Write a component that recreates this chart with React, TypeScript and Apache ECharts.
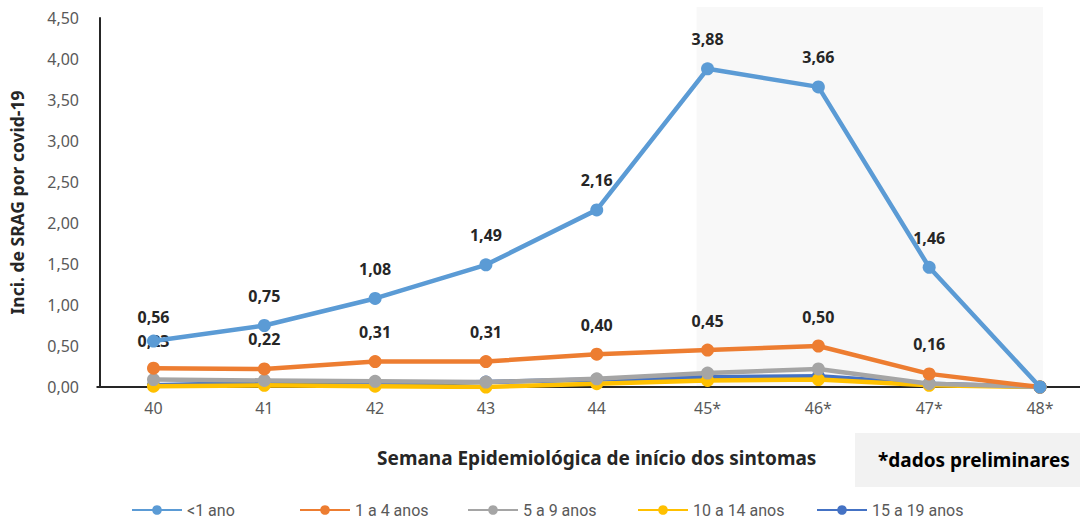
import React, { useEffect, useRef } from "react";
import * as echarts from "echarts";

const weeks = ["40", "41", "42", "43", "44", "45*", "46*", "47*", "48*"];
const seriesNames = ["<1 ano", "1 a 4 anos", "5 a 9 anos", "10 a 14 anos", "15 a 19 anos"];
const lt1 = [0.56, 0.75, 1.08, 1.49, 2.16, 3.88, 3.66, 1.46, 0.0];
const a1to4 = [0.23, 0.22, 0.31, 0.31, 0.4, 0.45, 0.5, 0.16, 0.0];
const a5to9 = [0.09, 0.08, 0.07, 0.06, 0.1, 0.17, 0.22, 0.04, 0.0];
const a10to14 = [0.01, 0.02, 0.01, 0.0, 0.04, 0.08, 0.09, 0.02, 0.0];
const a15to19 = [0.02, 0.05, 0.03, 0.06, 0.09, 0.12, 0.13, 0.04, 0.0];
const colors = ["#5B9BD5", "#ED7D31", "#A5A5A5", "#FFC000", "#4472C4"];
const labeled = [true, true, false, false, false];
const legendLefts = [131, 299, 467, 637, 816];
const yTicks = { min: 0, max: 4.5, interval: 0.5 };

const fmt = (v: number) => v.toFixed(2).replace(".", ",");

export default function App() {
  const ref = useRef<HTMLDivElement>(null);
  useEffect(() => {
    if (!ref.current) return;
    const chart = echarts.init(ref.current, undefined, { renderer: "svg" });
    const allData = [lt1, a1to4, a5to9, a10to14, a15to19];
    const series = allData.map((d, i) => ({
      name: seriesNames[i],
      type: "line",
      data: d.map((v, j) => {
        if (!labeled[i]) return v;
        const item: any = { value: v };
        if (v === 0) item.label = { show: false };
        if (i === 0 && j === 0) item.label = { offset: [0, 5] };
        if (i === 1 && j === 0) item.label = { offset: [0, 2] };
        return item;
      }),
      z: 10 - i,
      color: colors[i],
      lineStyle: { width: 4.5, color: colors[i] },
      symbol: "circle",
      symbolSize: 13,
      itemStyle: { color: colors[i] },
      label: {
        show: labeled[i],
        position: "top",
        distance: 15,
        fontFamily: "Noto Sans",
        fontWeight: "bold",
        fontSize: 16,
        color: "#262626",
        formatter: (p: any) => fmt(p.value),
      },
    }));
    chart.setOption({
      animation: false,
      backgroundColor: "#ffffff",
      grid: { left: 150.5, top: 18, right: 40, height: 369, containLabel: false },
      xAxis: {
        type: "category",
        data: weeks,
        boundaryGap: false,
        axisLine: { lineStyle: { color: "#262626", width: 2 } },
        axisTick: { show: false },
        axisLabel: { color: "#595959", fontSize: 16, fontFamily: "Noto Sans", margin: 13 },
        name: "Semana Epidemiológica de início dos sintomas",
        nameLocation: "middle",
        nameGap: 61,
        nameTextStyle: { fontFamily: "Noto Sans", fontWeight: "bold", fontSize: 19, color: "#262626" },
      },
      yAxis: {
        type: "value",
        min: yTicks.min,
        max: yTicks.max,
        interval: yTicks.interval,
        offset: 53.5,
        splitLine: { show: false },
        axisLine: { show: true, lineStyle: { color: "#262626", width: 2 } },
        axisTick: { show: false },
        axisLabel: { color: "#595959", fontSize: 16, fontFamily: "Noto Sans", margin: 21, formatter: (v: number) => fmt(v) },
        name: "Inci. de SRAG por covid-19",
        nameLocation: "middle",
        nameGap: 74,
        nameRotate: 90,
        nameTextStyle: { fontFamily: "Noto Sans", fontWeight: "bold", fontSize: 17.5, color: "#262626" },
      },
      legend: seriesNames.map((n, i) => ({
        data: [n],
        left: legendLefts[i],
        top: 502,
        padding: 0,
        itemWidth: 50,
        itemHeight: 12,
        textStyle: { color: "#595959", fontSize: 16, fontFamily: "Roboto" },
      })),
      series,
    });
    const x45 = chart.convertToPixel({ xAxisIndex: 0 }, "45*") as number;
    const x48 = chart.convertToPixel({ xAxisIndex: 0 }, "48*") as number;
    const y0 = chart.convertToPixel({ yAxisIndex: 0 }, 0) as number;
    chart.setOption({
      graphic: [
        {
          type: "rect",
          z: -10,
          silent: true,
          shape: { x: x45 - 11, y: 7, width: x48 - x45 + 14, height: y0 - 7 },
          style: { fill: "#f8f8f8" },
        },
        {
          type: "line",
          z: -5,
          silent: true,
          shape: { x1: 96.5, y1: y0, x2: 1080, y2: y0 },
          style: { stroke: "#262626", lineWidth: 2 },
        },
        {
          type: "rect",
          silent: true,
          shape: { x: 855, y: 433, width: 225, height: 54 },
          style: { fill: "#f2f2f2" },
        },
        {
          type: "text",
          silent: true,
          x: 878,
          y: 460,
          style: {
            text: "*dados preliminares",
            fontFamily: "Noto Sans",
            fontWeight: "bold",
            fontSize: 19,
            fill: "#000000",
            textVerticalAlign: "middle",
          },
        },
      ],
    });
    return () => chart.dispose();
  }, []);
  return (
    <div
      ref={ref}
      style={{ position: "fixed", left: 0, top: 0, width: 1080, height: 519, background: "#fff" }}
    />
  );
}
